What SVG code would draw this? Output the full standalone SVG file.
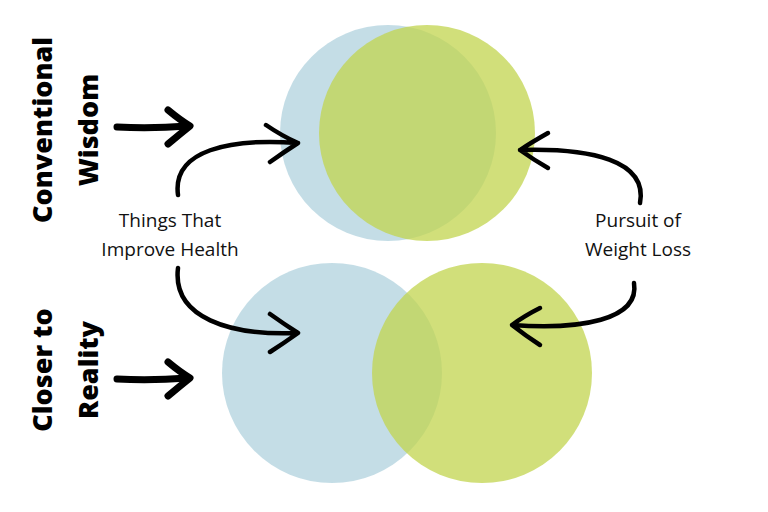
<svg xmlns="http://www.w3.org/2000/svg" width="768" height="512" viewBox="0 0 768 512">
<style>
.blue{fill:#b7d6e0;fill-opacity:0.82}
.green{fill:#c2d44e;fill-opacity:0.75}
.side{font-family:"Open Sans","Liberation Sans",sans-serif;font-weight:800;font-size:27px;fill:#000}
.lbl{font-family:"Open Sans","Liberation Sans",sans-serif;font-size:19px;fill:#111;text-anchor:middle}
.arr{fill:none;stroke:#000;stroke-width:4.5;stroke-linecap:round;stroke-linejoin:round}
.thick{fill:none;stroke:#000;stroke-width:7;stroke-linecap:round;stroke-linejoin:round}
</style>
<rect width="768" height="512" fill="#fff"/>
<g id="top-blue"><circle class="blue" cx="388" cy="133" r="108"/></g>
<g id="top-green"><circle class="green" cx="427" cy="133" r="108"/></g>
<g id="bottom-blue"><circle class="blue" cx="332" cy="373" r="110"/></g>
<g id="bottom-green"><circle class="green" cx="482" cy="373" r="110"/></g>
<g id="label-conventional">
<text class="side" transform="translate(52,130) rotate(-90)" text-anchor="middle">Conventional</text>
<text class="side" transform="translate(98,130) rotate(-90)" text-anchor="middle">Wisdom</text>
</g>
<g id="label-closer">
<text class="side" transform="translate(52,370) rotate(-90)" text-anchor="middle">Closer to</text>
<text class="side" transform="translate(98,370) rotate(-90)" text-anchor="middle">Reality</text>
</g>
<g id="label-health">
<text class="lbl" x="170" y="227">Things That</text>
<text class="lbl" x="170" y="256">Improve Health</text>
</g>
<g id="label-weight">
<text class="lbl" x="638" y="227">Pursuit of</text>
<text class="lbl" x="638" y="256">Weight Loss</text>
</g>
<g id="connectors">
<path class="thick" d="M117 127 Q150 129 188 126 M168 110 Q180 120 190 126 Q180 134 168 144"/>
<path class="thick" d="M117 379 Q150 381 188 378 M168 362 Q180 372 190 378 Q180 386 168 396"/>
<path class="arr" d="M178 195 C172 150 230 138 298 143 M266 125 Q282 136 298 143 Q284 152 270 162"/>
<path class="arr" d="M178 268 C172 318 230 336 298 333 M270 314 Q284 324 298 333 Q284 343 270 352"/>
<path class="arr" d="M640 203 C648 160 590 148 520 150 M548 133 Q532 142 520 150 Q534 160 548 168"/>
<path class="arr" d="M634 283 C640 320 580 330 512 325 M540 308 Q524 316 512 325 Q526 336 540 345"/>
</g>
</svg>
